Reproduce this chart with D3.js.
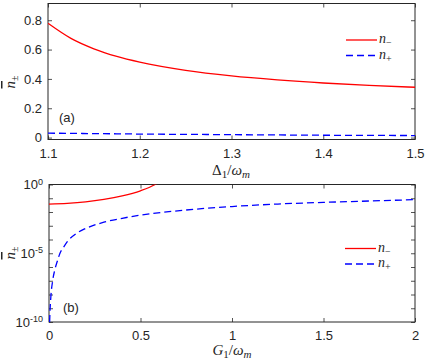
<!DOCTYPE html>
<html>
<head>
<meta charset="utf-8">
<script src="https://cdn.jsdelivr.net/npm/d3@7"></script>
<style>
  body { margin: 0; background: #fff; }
  svg { display: block; }
  .tick text { font-family: "Liberation Sans", Arial, sans-serif; font-size: 13px; fill: #262626; }
  .math { font-family: "Liberation Serif", "Times New Roman", serif; fill: #262626; }
</style>
</head>
<body>
<div id="chart"></div>
<script>
// panel (a): occupation vs detuning
const deltaVals = [1.1, 1.125, 1.15, 1.175, 1.2, 1.25, 1.3, 1.35, 1.4, 1.45, 1.5];
const nMinusA   = [0.779, 0.676, 0.605, 0.553, 0.514, 0.458, 0.42, 0.393, 0.372, 0.356, 0.343];
const nPlusA    = [0.030, 0.029, 0.027, 0.026, 0.024, 0.022, 0.020, 0.018, 0.016, 0.015, 0.014];
const xTicksA = [1.1, 1.2, 1.3, 1.4, 1.5];
const yTicksA = [0, 0.2, 0.4, 0.6, 0.8];

// panel (b): occupation vs coupling (log scale)
const gMinus = [0, 0.1, 0.2, 0.3, 0.4, 0.5, 0.55, 0.58, 0.6];
const nMinusB = [3.8e-2, 4.3e-2, 5.5e-2, 8.3e-2, 0.15, 0.35, 0.63, 1.0, 1.4];
const gPlus = [0.0035, 0.005, 0.01, 0.02, 0.03, 0.045, 0.06, 0.08, 0.1, 0.15, 0.2, 0.3, 0.4, 0.5, 0.75, 1.0, 1.25, 1.5, 1.75, 2.0];
const nPlusB = [1e-10, 4e-10, 6.3e-9, 1e-7, 5e-7, 2.5e-6, 1e-5, 2.8e-5, 7e-5, 2.8e-4, 6.3e-4, 1.8e-3, 3.5e-3, 5.9e-3, 1.4e-2, 2.5e-2, 3.8e-2, 5e-2, 6.3e-2, 7.9e-2];
const xTicksB = [0, 0.5, 1, 1.5, 2];
const yTicksB = d3.range(-10, 1).map(e => Math.pow(10, e));
const yLabelExpB = [0, -5, -10];

const W = 425, H = 361;
const ink = '#262626';
const svg = d3.select('#chart').append('svg').attr('width', W).attr('height', H);

const defs = svg.append('defs');

function panel(opt) {
  const { left, right, top, bottom, id } = opt;
  defs.append('clipPath').attr('id', id)
    .append('rect').attr('x', left).attr('y', top)
    .attr('width', right - left).attr('height', bottom - top);

  const g = svg.append('g');
  const x = opt.x.range([left, right]);
  const y = opt.y.range([bottom, top]);

  // ticks inward, all four sides
  const tl = 4;
  g.append('g').attr('transform', `translate(0,${bottom})`)
    .call(d3.axisBottom(x).tickValues(opt.xTicks).tickSize(-tl).tickPadding(9).tickFormat(d => d));
  g.append('g').attr('transform', `translate(0,${top})`)
    .call(d3.axisTop(x).tickValues(opt.xTicks).tickSize(-tl).tickFormat(''));
  const yl = g.append('g').attr('transform', `translate(${left},0)`)
    .call(d3.axisLeft(y).tickValues(opt.yTicks).tickSize(-tl).tickPadding(6).tickFormat(opt.yFormat));
  g.append('g').attr('transform', `translate(${right},0)`)
    .call(d3.axisRight(y).tickValues(opt.yTicks).tickSize(-tl).tickFormat(''));
  g.selectAll('.domain').remove();
  g.selectAll('.tick line').attr('stroke', ink).attr('stroke-width', 0.8);
  if (opt.afterY) opt.afterY(yl);

  g.append('rect').attr('x', left).attr('y', top)
    .attr('width', right - left).attr('height', bottom - top)
    .attr('fill', 'none').attr('stroke', ink).attr('stroke-width', 1);

  const plot = g.append('g').attr('clip-path', `url(#${id})`);
  opt.series.forEach(s => {
    const line = d3.line().curve(d3.curveMonotoneX)
      .x((d, i) => x(s.xs[i])).y(d => y(d));
    plot.append('path').datum(s.ys)
      .attr('d', line)
      .attr('fill', 'none')
      .attr('stroke', s.color)
      .attr('stroke-width', 1.3)
      .attr('stroke-dasharray', s.dash || null);
  });

  // legend
  opt.series.forEach((s, i) => {
    const ly = opt.legendY + i * 15.5;
    g.append('line').attr('x1', opt.legendX).attr('x2', opt.legendX + 31)
      .attr('y1', ly).attr('y2', ly)
      .attr('stroke', s.color).attr('stroke-width', 1.3)
      .attr('stroke-dasharray', s.dash || null);
    const t = g.append('text').attr('class', 'math')
      .attr('x', opt.legendX + 33).attr('y', ly + 3).style('font-size', '14px');
    t.append('tspan').style('font-style', 'italic').text('n');
    t.append('tspan').attr('dy', 3).style('font-size', '10px').text(s.sub);
  });

  // panel tag
  g.append('text').attr('x', opt.tagX).attr('y', opt.tagY)
    .style('font-family', '"Liberation Sans", Arial, sans-serif')
    .style('font-size', '13px').attr('fill', ink).text(opt.tag);

  // x label
  const xt = g.append('text').attr('class', 'math')
    .attr('x', opt.xLabelX).attr('y', opt.xLabelY)
    .attr('text-anchor', 'middle').style('font-size', '15px');
  opt.xLabel(xt);

  // y label n̄± (rotated)
  const yt = g.append('text').attr('class', 'math')
    .attr('transform', `translate(15,${opt.yLabelY}) rotate(-90)`)
    .attr('text-anchor', 'middle').style('font-size', '15px');
  yt.append('tspan').style('font-style', 'italic')
    .style('text-decoration', 'overline').text('n');
  yt.append('tspan').attr('dy', 3).style('font-size', '10px').text('\u00b1');
}

function subLabel(t, head, italicHead) {
  t.append('tspan').style('font-style', italicHead ? 'italic' : null).text(head);
  t.append('tspan').attr('dy', 3).style('font-size', '11px').text('1');
  t.append('tspan').attr('dy', -3).text('/');
  t.append('tspan').style('font-style', 'italic').text('\u03c9');
  t.append('tspan').attr('dy', 3).style('font-size', '11px').style('font-style', 'italic').text('m');
}

panel({
  id: 'clipA', left: 48, right: 415, top: 3.5, bottom: 139.5,
  x: d3.scaleLinear().domain([1.1, 1.5]),
  y: d3.scaleLinear().domain([-0.013, 0.914]),
  xTicks: xTicksA, yTicks: yTicksA,
  yFormat: d => d,
  series: [
    { xs: deltaVals, ys: nMinusA, color: '#ff0000', sub: '\u2212' },
    { xs: deltaVals, ys: nPlusA, color: '#0000ff', dash: '7,4', sub: '+' }
  ],
  legendX: 346, legendY: 40,
  tag: '(a)', tagX: 59, tagY: 122,
  xLabelX: 231, xLabelY: 175,
  xLabel: t => subLabel(t, '\u0394', false),
  yLabelY: 82
});

panel({
  id: 'clipB', left: 49, right: 415, top: 184.5, bottom: 322,
  x: d3.scaleLinear().domain([0, 2]),
  y: d3.scaleLog().domain([1e-10, 1]),
  xTicks: xTicksB, yTicks: yTicksB,
  yFormat: () => '',
  afterY: sel => {
    sel.selectAll('.tick').each(function (d) {
      const e = Math.round(Math.log10(d));
      if (!yLabelExpB.includes(e)) return;
      const t = d3.select(this).select('text').text(null).attr('dy', '0.32em');
      t.append('tspan').text('10');
      t.append('tspan').attr('dy', '-0.5em').style('font-size', '9px').text(e);
    });
  },
  series: [
    { xs: gMinus, ys: nMinusB, color: '#ff0000', sub: '\u2212' },
    { xs: gPlus, ys: nPlusB, color: '#0000ff', dash: '7,4', sub: '+' }
  ],
  legendX: 345, legendY: 248.5,
  tag: '(b)', tagX: 63, tagY: 312,
  xLabelX: 232, xLabelY: 355,
  xLabel: t => subLabel(t, 'G', true),
  yLabelY: 253
});
</script>
</body>
</html>
